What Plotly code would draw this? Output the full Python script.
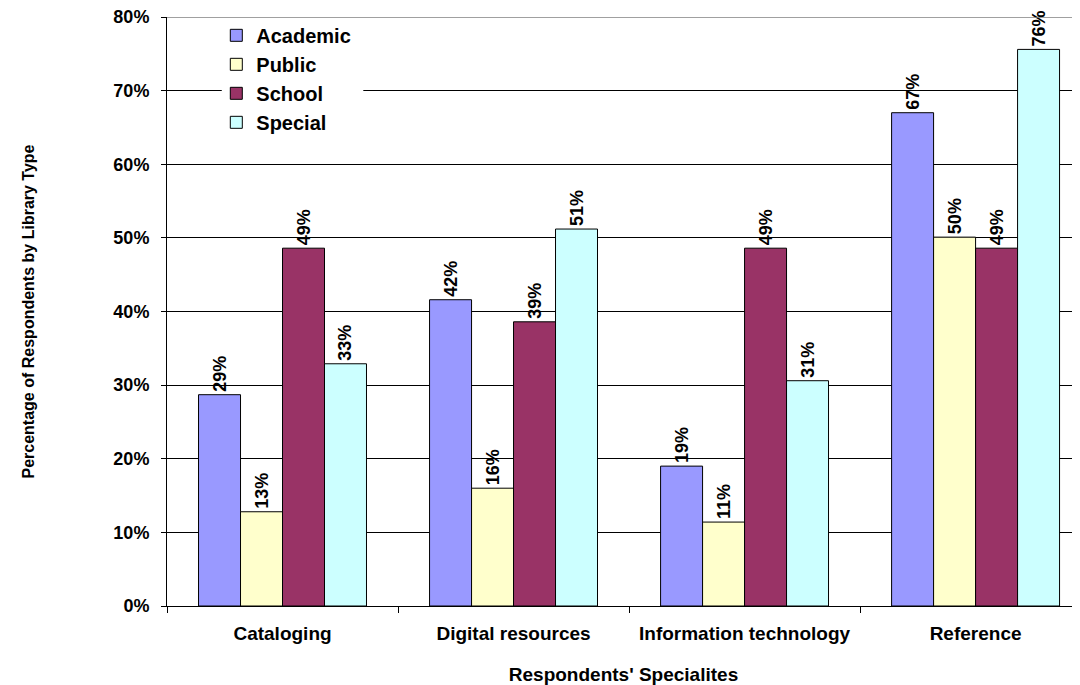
import plotly.graph_objects as go

specialties = ['Cataloging', 'Digital resources', 'Information technology', 'Reference']
academic = [28.7, 41.6, 19.0, 67.0]
public = [12.8, 16.0, 11.4, 50.1]
school = [48.6, 38.6, 48.6, 48.6]
special = [32.9, 51.2, 30.6, 75.6]

series = [('Academic', academic, '#9999FF'),
          ('Public', public, '#FFFFCC'),
          ('School', school, '#993366'),
          ('Special', special, '#CCFFFF')]

fig = go.Figure()
for name, vals, color in series:
    fig.add_trace(go.Bar(x=specialties, y=vals, name='<b>' + name + '</b>', legendgroup=name,
                         marker=dict(color=color, line=dict(color='black', width=1)),
                         texttemplate='<b>%{y:.0f}%</b>', textposition='outside',
                         textangle=-90, constraintext='none', cliponaxis=False,
                         textfont=dict(size=18, color='black')))

# white box behind the legend hides the gridline like the original
fig.add_shape(type='rect', xref='paper', yref='y', x0=0.060, x1=0.215, y0=61, y1=79,
              fillcolor='white', line=dict(width=0), layer='above')
# grey top border of the plot area
fig.add_shape(type='line', xref='paper', yref='y', x0=0, x1=1, y0=80, y1=80,
              line=dict(color='#808080', width=1.5), layer='above')

# page body has an 8px margin, so margins are shifted to compensate
fig.update_layout(
    width=1080, height=685,
    margin=dict(l=159, r=8, t=9, b=87),
    paper_bgcolor='white', plot_bgcolor='white',
    font=dict(family='Liberation Sans, Arial, sans-serif', size=18, color='black'),
    barmode='group', bargap=0.273, bargroupgap=0,
    showlegend=True,
    legend=dict(x=0.054, y=1.002, xanchor='left', yanchor='top',
                bgcolor='rgba(0,0,0,0)', font=dict(size=20),
                tracegroupgap=0, itemclick=False),
)
fig.update_xaxes(range=[-0.5, 3.452], showline=True, linecolor='black', linewidth=1,
                 ticks='outside', tickson='boundaries', ticklen=6, tickcolor='black',
                 tickfont=dict(size=19), tickprefix='<b>', ticksuffix='</b>',
                 ticklabelstandoff=10, automargin=False,
                 title=dict(text="<b>Respondents' Specialites</b>", font=dict(size=19), standoff=24))
fig.update_yaxes(range=[0, 80], dtick=10, tickprefix='<b>', ticksuffix='%</b>', showline=True,
                 linecolor='black', linewidth=1, showgrid=True, gridcolor='black', gridwidth=1,
                 ticks='outside', ticklen=5, tickcolor='black', tickfont=dict(size=18),
                 ticklabelstandoff=8, ticklabeloverflow='allow', zeroline=False, automargin=False,
                 title=dict(text='<b>Percentage of Respondents by Library Type</b>',
                            font=dict(size=16), standoff=74))

fig.write_html("out.html")
